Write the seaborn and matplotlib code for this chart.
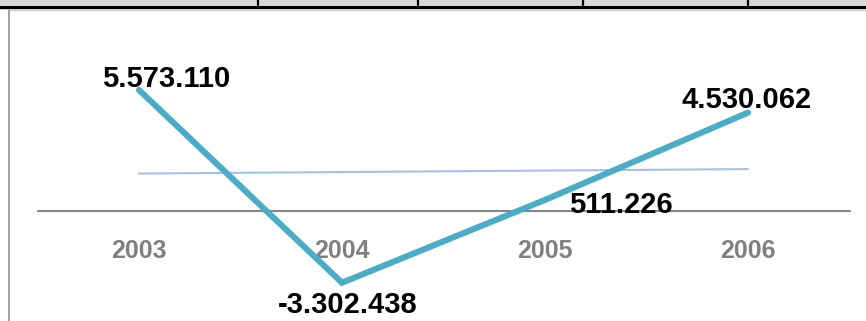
import numpy as np
import pandas as pd
import matplotlib
matplotlib.use("Agg")
import matplotlib.pyplot as plt
import seaborn as sns
from matplotlib.lines import Line2D
from matplotlib.patches import Rectangle

years = ["2003", "2004", "2005", "2006"]
values = [5573110, -3302438, 511226, 4530062]
value_labels = ["5.573.110", "-3.302.438", "511.226", "4.530.062"]

sns.set_theme(style="white")
plt.rcParams["font.family"] = ["Liberation Sans", "DejaVu Sans"]

W, H, DPI = 866, 321, 100
fig = plt.figure(figsize=(W / DPI, H / DPI), dpi=DPI)

# plot area in pixel units (left, top, right, bottom)
L, T, R, B = 37.5, 40, 849.5, 300
ax = fig.add_axes([L / W, 1 - B / H, (R - L) / W, (B - T) / H])

df = pd.DataFrame({"year": years, "value": values, "pos": np.arange(len(years))})

sns.lineplot(data=df, x="pos", y="value", ax=ax, color="#4bacc6",
             linewidth=4.4, solid_capstyle="round", solid_joinstyle="miter",
             zorder=4)

# linear trendline
coef = np.polyfit(df["pos"], df["value"], 1)
trend = np.polyval(coef, df["pos"])
sns.lineplot(x=df["pos"], y=trend, ax=ax, color="#a4bff0", linewidth=1.5, zorder=3)

# y range so zero sits at the category axis
px_per_unit = (211 - 90) / values[0]
ax.set_ylim((211 - B) / px_per_unit, (211 - T) / px_per_unit)
ax.set_xlim(-0.5, len(years) - 0.5)

for s in ["left", "right", "top"]:
    ax.spines[s].set_visible(False)
ax.spines["bottom"].set_position(("data", 0))
ax.spines["bottom"].set_color("#868686")
ax.spines["bottom"].set_linewidth(1.5)
ax.set_yticks([])
ax.set_xticks(df["pos"])
ax.set_xticklabels(years, color="#808080", fontsize=18, fontweight="bold")
ax.tick_params(axis="x", length=0, pad=20)
ax.set_xlabel("")
ax.set_ylabel("")
ax.patch.set_alpha(0)

offsets = [(27, 11), (6, -22), (76, -5), (-1, 13)]
for x, v, lab, off in zip(df["pos"], values, value_labels, offsets):
    ax.annotate(lab, (x, v), xytext=off, textcoords="offset pixels",
                ha="center", va="center", fontsize=21, fontweight="bold",
                color="black", zorder=5)

# header strip and chart border
fig.patches.append(Rectangle((0, 1 - 5 / H), 1, 5 / H, transform=fig.transFigure,
                             facecolor="#d9d9d9", edgecolor="none", zorder=0))
fig.lines.append(Line2D([0, 1], [1 - 6.5 / H] * 2, transform=fig.transFigure,
                        color="black", linewidth=2.4))
for xp in [258, 418, 583, 748]:
    fig.lines.append(Line2D([xp / W] * 2, [1 - 5 / H, 1], transform=fig.transFigure,
                            color="black", linewidth=1.6))
fig.lines.append(Line2D([8.5 / W, 1], [1 - 10 / H] * 2, transform=fig.transFigure,
                        color="#d0d0d0", linewidth=1.0))
fig.lines.append(Line2D([8.5 / W] * 2, [0, 1 - 9.5 / H], transform=fig.transFigure,
                        color="#a0a0a0", linewidth=1.4))

fig.savefig("out.png", dpi=DPI)
